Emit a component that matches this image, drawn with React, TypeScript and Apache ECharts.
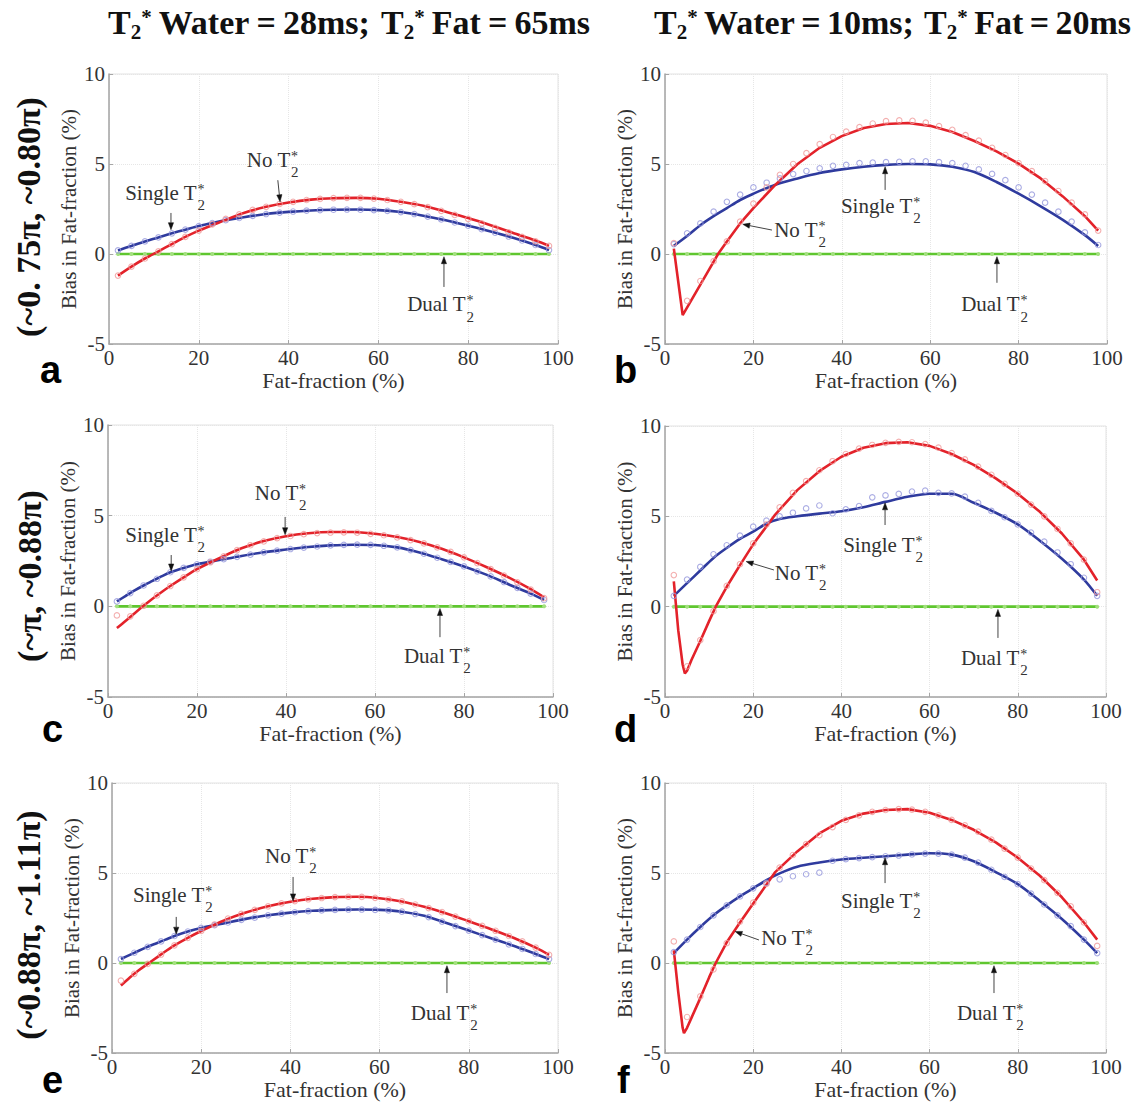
import React, { useEffect, useRef } from "react";
import * as echarts from "echarts";

// ---------------- DATA ----------------
const X_TICKS = [0, 20, 40, 60, 80, 100];
const Y_TICKS = [-5, 0, 5, 10];
const MARK_X = [2, 5, 8, 11, 14, 17, 20, 23, 26, 29, 32, 35, 38, 41, 44, 47, 50, 53, 56, 59, 62, 65, 68, 71, 74, 77, 80, 83, 86, 89, 92, 95, 98];
const DUAL_BIAS = [0, 0, 0, 0, 0, 0, 0, 0, 0, 0, 0, 0, 0, 0, 0, 0, 0, 0, 0, 0, 0, 0, 0, 0, 0, 0, 0, 0, 0, 0, 0, 0, 0];

// panel a
const A_RED_MARKS = [-1.2, -0.7, -0.25, 0.15, 0.55, 0.95, 1.3, 1.65, 1.95, 2.2, 2.45, 2.62, 2.78, 2.9, 3.0, 3.06, 3.1, 3.12, 3.12, 3.08, 3.0, 2.9, 2.77, 2.6, 2.4, 2.17, 1.95, 1.7, 1.45, 1.2, 0.95, 0.7, 0.45];
const A_BLUE_MARKS = [0.2, 0.45, 0.7, 0.92, 1.15, 1.35, 1.55, 1.72, 1.88, 2.0, 2.12, 2.22, 2.3, 2.36, 2.41, 2.44, 2.46, 2.47, 2.46, 2.44, 2.4, 2.33, 2.22, 2.08, 1.92, 1.75, 1.57, 1.38, 1.18, 0.97, 0.75, 0.5, 0.22];
const A_RED_LINE = [[2, -1.2], [5, -0.7], [8, -0.25], [11, 0.15], [14, 0.55], [17, 0.95], [20, 1.3], [25, 1.8], [30, 2.28], [35, 2.62], [40, 2.86], [45, 3.02], [50, 3.1], [55, 3.12], [60, 3.07], [65, 2.9], [70, 2.68], [75, 2.35], [80, 2.0], [85, 1.6], [90, 1.17], [95, 0.75], [98, 0.45]];
const A_BLUE_LINE = [[2, 0.2], [5, 0.45], [8, 0.7], [11, 0.92], [14, 1.15], [17, 1.35], [20, 1.55], [25, 1.83], [30, 2.04], [35, 2.22], [40, 2.34], [45, 2.42], [50, 2.46], [55, 2.47], [60, 2.44], [65, 2.33], [70, 2.13], [75, 1.87], [80, 1.57], [85, 1.25], [90, 0.9], [95, 0.5], [98, 0.22]];

// panel b
const B_RED_MARKS = [0.6, -2.6, -1.5, -0.4, 0.7, 1.8, 2.8, 3.7, 4.4, 5.0, 5.6, 6.1, 6.5, 6.8, 7.05, 7.25, 7.38, 7.42, 7.4, 7.3, 7.1, 6.9, 6.6, 6.3, 5.9, 5.5, 5.05, 4.6, 4.05, 3.5, 2.85, 2.2, 1.3];
const B_BLUE_MARKS = [0.55, 1.15, 1.7, 2.35, 2.9, 3.3, 3.7, 3.96, 4.2, 4.44, 4.61, 4.76, 4.9, 4.95, 5.05, 5.08, 5.1, 5.12, 5.15, 5.15, 5.1, 5.05, 4.9, 4.7, 4.45, 4.1, 3.7, 3.3, 2.85, 2.35, 1.8, 1.2, 0.5];
const B_RED_LINE = [[2, 0.3], [4, -3.4], [6, -2.55], [8, -1.7], [10, -0.85], [12, 0], [14, 0.7], [17, 1.7], [20, 2.55], [25, 3.85], [30, 5.0], [35, 5.9], [40, 6.55], [45, 7.0], [50, 7.22], [55, 7.28], [60, 7.12], [65, 6.78], [70, 6.28], [75, 5.7], [80, 5.02], [85, 4.2], [90, 3.2], [95, 2.1], [98, 1.3]];
const B_BLUE_LINE = [[2, 0.45], [5, 1.0], [8, 1.6], [11, 2.1], [14, 2.55], [17, 3.0], [20, 3.35], [25, 3.85], [30, 4.2], [35, 4.5], [40, 4.7], [45, 4.85], [50, 4.95], [55, 5.0], [60, 4.98], [65, 4.85], [70, 4.55], [75, 4.0], [80, 3.35], [85, 2.65], [90, 1.9], [95, 1.05], [98, 0.45]];

// panel c
const C_RED_MARKS = [-0.5, -0.55, 0.03, 0.6, 1.12, 1.6, 2.05, 2.43, 2.76, 3.1, 3.37, 3.58, 3.76, 3.88, 3.98, 4.04, 4.07, 4.08, 4.06, 4.0, 3.92, 3.8, 3.65, 3.47, 3.25, 3.0, 2.7, 2.38, 2.05, 1.7, 1.32, 0.92, 0.45];
const C_BLUE_MARKS = [0.27, 0.73, 1.15, 1.52, 1.88, 2.12, 2.32, 2.46, 2.6, 2.73, 2.85, 2.98, 3.07, 3.16, 3.24, 3.3, 3.36, 3.39, 3.4, 3.39, 3.34, 3.25, 3.1, 2.9, 2.68, 2.45, 2.2, 1.93, 1.65, 1.34, 1.02, 0.7, 0.35];
const C_RED_LINE = [[2, -1.2], [4, -0.8], [6, -0.38], [8, 0.03], [10, 0.42], [12, 0.78], [14, 1.12], [17, 1.6], [20, 2.05], [25, 2.65], [30, 3.2], [35, 3.6], [40, 3.87], [45, 4.03], [50, 4.1], [55, 4.1], [60, 4.0], [65, 3.82], [70, 3.55], [75, 3.17], [80, 2.7], [85, 2.17], [90, 1.6], [95, 0.95], [98, 0.5]];
const C_BLUE_LINE = [[2, 0.27], [4, 0.58], [6, 0.88], [8, 1.15], [10, 1.4], [12, 1.65], [14, 1.88], [17, 2.12], [20, 2.32], [25, 2.55], [30, 2.78], [35, 2.98], [40, 3.13], [45, 3.27], [50, 3.36], [55, 3.4], [60, 3.38], [65, 3.25], [70, 2.97], [75, 2.6], [80, 2.2], [85, 1.75], [90, 1.22], [95, 0.7], [98, 0.35]];

// panel d
const D_RED_MARKS = [1.75, -3.3, -1.85, -0.25, 1.15, 2.35, 3.5, 4.55, 5.5, 6.3, 6.95, 7.55, 8.05, 8.45, 8.75, 8.95, 9.07, 9.12, 9.1, 9.0, 8.8, 8.5, 8.15, 7.75, 7.3, 6.8, 6.25, 5.65, 5.0, 4.3, 3.5, 2.6, 0.8];
const D_BLUE_MARKS = [0.6, 1.5, 2.2, 2.9, 3.4, 3.93, 4.43, 4.76, 5.0, 5.2, 5.44, 5.6, 5.17, 5.39, 5.57, 6.05, 6.16, 6.24, 6.37, 6.42, 6.3, 6.27, 6.09, 5.75, 5.3, 4.95, 4.55, 4.1, 3.6, 3.0, 2.35, 1.6, 0.6];
const D_RED_LINE = [[2, 1.4], [3, -1.3], [4, -3.2], [4.5, -3.7], [5, -3.55], [6, -2.95], [8, -1.9], [10, -0.8], [11.5, 0], [14, 1.1], [17, 2.3], [20, 3.45], [25, 5.1], [30, 6.45], [35, 7.5], [40, 8.3], [45, 8.8], [50, 9.05], [55, 9.1], [60, 8.9], [65, 8.45], [70, 7.85], [75, 7.1], [80, 6.25], [85, 5.25], [90, 4.05], [95, 2.6], [98, 1.45]];
const D_BLUE_LINE = [[2, 0.6], [5, 1.3], [8, 2.0], [11, 2.7], [14, 3.25], [17, 3.75], [20, 4.15], [23, 4.6], [26, 4.85], [30, 5.0], [35, 5.15], [40, 5.28], [45, 5.5], [50, 5.8], [55, 6.08], [60, 6.25], [65, 6.25], [70, 5.75], [75, 5.2], [80, 4.55], [85, 3.65], [90, 2.65], [95, 1.5], [98, 0.6]];

// panel e
const E_RED_MARKS = [-0.98, -0.6, -0.05, 0.47, 0.98, 1.4, 1.78, 2.14, 2.47, 2.73, 2.95, 3.15, 3.31, 3.44, 3.54, 3.61, 3.66, 3.68, 3.67, 3.62, 3.53, 3.42, 3.25, 3.05, 2.83, 2.58, 2.32, 2.06, 1.79, 1.5, 1.2, 0.85, 0.45];
const E_BLUE_MARKS = [0.22, 0.57, 0.9, 1.2, 1.5, 1.75, 1.95, 2.1, 2.25, 2.4, 2.52, 2.65, 2.74, 2.82, 2.88, 2.92, 2.95, 2.97, 2.97, 2.95, 2.92, 2.85, 2.72, 2.55, 2.3, 2.05, 1.8, 1.55, 1.3, 1.03, 0.78, 0.5, 0.22];
const E_RED_LINE = [[2, -1.25], [4, -0.8], [6, -0.4], [8, -0.05], [10, 0.3], [12, 0.65], [14, 0.98], [17, 1.4], [20, 1.78], [25, 2.35], [30, 2.8], [35, 3.15], [40, 3.4], [45, 3.57], [50, 3.66], [55, 3.68], [60, 3.6], [65, 3.42], [70, 3.12], [75, 2.75], [80, 2.32], [85, 1.88], [90, 1.4], [95, 0.85], [98, 0.45]];
const E_BLUE_LINE = [[2, 0.22], [4, 0.45], [6, 0.68], [8, 0.9], [10, 1.1], [12, 1.3], [14, 1.5], [17, 1.75], [20, 1.95], [25, 2.2], [30, 2.45], [35, 2.65], [40, 2.8], [45, 2.9], [50, 2.95], [55, 2.97], [60, 2.95], [65, 2.85], [70, 2.62], [75, 2.22], [80, 1.8], [85, 1.38], [90, 0.96], [95, 0.5], [98, 0.22]];

// panel f
const F_RED_MARKS = [1.2, -3.0, -1.85, -0.35, 1.1, 2.3, 3.35, 4.4, 5.3, 6.0, 6.6, 7.1, 7.55, 7.95, 8.2, 8.4, 8.5, 8.55, 8.52, 8.4, 8.2, 7.95, 7.65, 7.3, 6.85, 6.35, 5.85, 5.25, 4.6, 3.9, 3.15, 2.25, 0.95];
const F_BLUE_MARKS = [0.6, 1.3, 2.0, 2.65, 3.2, 3.7, 4.15, 4.45, 4.65, 4.82, 4.93, 5.02, 5.68, 5.77, 5.83, 5.88, 5.93, 5.97, 6.03, 6.08, 6.08, 6.02, 5.85, 5.58, 5.18, 4.78, 4.38, 3.85, 3.25, 2.65, 2.05, 1.3, 0.55];
const F_RED_LINE = [[2, 0.7], [3, -1.6], [4, -3.6], [4.3, -3.9], [5, -3.6], [6, -3.05], [8, -1.95], [10, -0.8], [11.5, 0], [14, 1.15], [17, 2.25], [20, 3.3], [25, 5.05], [30, 6.2], [35, 7.2], [40, 7.9], [45, 8.3], [50, 8.5], [55, 8.55], [60, 8.35], [65, 7.95], [70, 7.4], [75, 6.7], [80, 5.85], [85, 4.85], [90, 3.65], [95, 2.25], [98, 1.3]];
const F_BLUE_LINE = [[2, 0.55], [5, 1.3], [8, 2.0], [11, 2.65], [14, 3.2], [17, 3.7], [20, 4.15], [23, 4.6], [26, 4.98], [30, 5.35], [35, 5.58], [40, 5.75], [45, 5.85], [50, 5.93], [55, 6.02], [60, 6.1], [65, 6.02], [70, 5.65], [75, 5.05], [80, 4.38], [85, 3.45], [90, 2.45], [95, 1.3], [98, 0.55]];

const PANELS = [
  { redMarks: A_RED_MARKS, blueMarks: A_BLUE_MARKS, redLine: A_RED_LINE, blueLine: A_BLUE_LINE, sharp: false },
  { redMarks: B_RED_MARKS, blueMarks: B_BLUE_MARKS, redLine: B_RED_LINE, blueLine: B_BLUE_LINE, sharp: true },
  { redMarks: C_RED_MARKS, blueMarks: C_BLUE_MARKS, redLine: C_RED_LINE, blueLine: C_BLUE_LINE, sharp: false },
  { redMarks: D_RED_MARKS, blueMarks: D_BLUE_MARKS, redLine: D_RED_LINE, blueLine: D_BLUE_LINE, sharp: true },
  { redMarks: E_RED_MARKS, blueMarks: E_BLUE_MARKS, redLine: E_RED_LINE, blueLine: E_BLUE_LINE, sharp: false },
  { redMarks: F_RED_MARKS, blueMarks: F_BLUE_MARKS, redLine: F_RED_LINE, blueLine: F_BLUE_LINE, sharp: true },
];

const PANEL_LETTERS = ["a", "b", "c", "d", "e", "f"];
const ROW_LABELS = ["(~0. 75\u03c0, ~0.80\u03c0)", "(~\u03c0, ~0.88\u03c0)", "(~0.88\u03c0, ~1.11\u03c0)"];
const COL_TITLES = [["28ms;", "65ms"], ["10ms;", "20ms"]];
const X_NAME = "Fat-fraction (%)";
const Y_NAME = "Bias in Fat-fraction (%)";
const CURVE_LABELS = { no: "No T", single: "Single T", dual: "Dual T" };

// ---------------- LAYOUT ----------------
const W = 1138;
const H = 1105;
const GRIDS = [
  { left: 109, top: 74, width: 449, height: 270 },
  { left: 665, top: 74, width: 442, height: 270 },
  { left: 108, top: 425, width: 445, height: 272 },
  { left: 665, top: 426, width: 441, height: 271 },
  { left: 112, top: 783, width: 446, height: 270 },
  { left: 665, top: 783, width: 441, height: 270 },
];
const TITLE_LAYOUT = [
  { left: 108, right: 590, baseline: 34 },
  { left: 654, right: 1131, baseline: 34 },
];
const ROW_LABEL_POS = [[28, 217], [29, 576], [28, 925]];
const LETTER_POS = [[40, 383], [614, 383], [42, 742], [614, 742], [42, 1093], [617, 1093]];

// annotation anchors in data coordinates (x %, bias %)
const NOTES = [
  [
    { kind: "no", at: [30.7, 4.83], arrow: [[37.6, 4.1], [38.1, 2.9]] },
    { kind: "single", at: [3.6, 3.0], arrow: [[13.8, 2.28], [13.8, 1.35]] },
    { kind: "dual", at: [66.4, -3.2], arrow: [[74.6, -1.83], [74.6, -0.15]] },
  ],
  [
    { kind: "single", at: [39.8, 2.28], arrow: [[49.8, 3.56], [49.8, 4.85]] },
    { kind: "no", at: [24.7, 0.94], arrow: [[24.2, 1.33], [17.6, 1.65]] },
    { kind: "dual", at: [67.0, -3.2], arrow: [[75.1, -1.6], [75.1, -0.15]] },
  ],
  [
    { kind: "no", at: [33.0, 5.87], arrow: [[39.8, 4.93], [39.8, 3.95]] },
    { kind: "single", at: [3.9, 3.55], arrow: [[14.2, 2.83], [14.2, 1.95]] },
    { kind: "dual", at: [66.5, -3.12], arrow: [[74.6, -1.7], [74.6, -0.12]] },
  ],
  [
    { kind: "single", at: [40.4, 3.02], arrow: [[49.9, 4.52], [49.9, 5.75]] },
    { kind: "no", at: [24.9, 1.47], arrow: [[24.7, 2.03], [18.4, 2.5]] },
    { kind: "dual", at: [67.1, -3.23], arrow: [[75.5, -1.73], [75.5, -0.15]] },
  ],
  [
    { kind: "no", at: [34.3, 5.56], arrow: [[40.6, 4.78], [40.6, 3.45]] },
    { kind: "single", at: [4.7, 3.39], arrow: [[14.4, 2.56], [14.4, 1.6]] },
    { kind: "dual", at: [67, -3.17], arrow: [[75.1, -1.67], [75.1, -0.15]] },
  ],
  [
    { kind: "single", at: [39.9, 3.06], arrow: [[49.9, 4.44], [49.9, 5.85]] },
    { kind: "no", at: [21.8, 1.0], arrow: [[21.3, 1.28], [15.9, 1.75]] },
    { kind: "dual", at: [66.2, -3.17], arrow: [[74.6, -1.67], [74.6, -0.15]] },
  ],
];

const SERIF = "'Liberation Serif', 'Times New Roman', serif";
const SANS = "'Liberation Sans', Arial, sans-serif";
const RED = "#e3222a";
const BLUE = "#2f3b9e";
const GREEN = "#5fc62f";
const RED_MARK = "#f09a9a";
const BLUE_MARK = "#9597dc";
const GREEN_MARK = "#a3e07f";
const TEXT = "#333333";
const AXIS = "#a6a6a6";

// ---------------- helpers ----------------
let measureCtx: CanvasRenderingContext2D | null = null;
function measure(text: string, size: number, bold: boolean, family: string) {
  if (!measureCtx) measureCtx = document.createElement("canvas").getContext("2d");
  if (!measureCtx) return text.length * size * 0.5;
  measureCtx.font = `${bold ? "bold " : ""}${size}px ${family}`;
  return measureCtx.measureText(text).width;
}

function textAt(x: number, baseline: number, text: string, size: number, bold: boolean, family: string, fill: string, align = "left") {
  return {
    type: "text",
    x,
    y: baseline - 0.34 * size,
    z: 100,
    silent: true,
    style: {
      text,
      fontSize: size,
      fontWeight: bold ? "bold" : "normal",
      fontFamily: family,
      fill,
      align,
      verticalAlign: "middle",
      textAlign: align,
      textVerticalAlign: "middle",
    },
  };
}

function titleEls(vals: string[], lay: { left: number; right: number; baseline: number }) {
  const MAIN = 34;
  const SMALL = 21;
  const runs: any[] = [
    { t: "T" }, { t: "2", k: "sub" }, { t: "*", k: "sup" }, { gap: 1 },
    { t: "Water" }, { gap: 1 }, { t: "=" }, { gap: 1 }, { t: vals[0] }, { gap: 1.6 },
    { t: "T" }, { t: "2", k: "sub" }, { t: "*", k: "sup" }, { gap: 1 },
    { t: "Fat" }, { gap: 1 }, { t: "=" }, { gap: 1 }, { t: vals[1] },
  ];
  let textW = 0;
  let gapSum = 0;
  runs.forEach((r) => {
    if (r.gap) gapSum += r.gap;
    else {
      r.size = r.k ? SMALL : MAIN;
      r.w = measure(r.t, r.size, true, SERIF);
      textW += r.w;
    }
  });
  const unit = Math.max(4, (lay.right - lay.left - textW) / gapSum);
  let x = lay.left;
  const els: any[] = [];
  runs.forEach((r) => {
    if (r.gap) {
      x += r.gap * unit;
      return;
    }
    let b = lay.baseline;
    if (r.k === "sub") b = lay.baseline + 5;
    if (r.k === "sup") b = lay.baseline - 10;
    els.push(textAt(x, b, r.t, r.size, true, SERIF, "#111"));
    x += r.w;
  });
  return els;
}

function arrowEls(p1: number[], p2: number[]) {
  const dx = p2[0] - p1[0];
  const dy = p2[1] - p1[1];
  const L = Math.hypot(dx, dy) || 1;
  const ux = dx / L;
  const uy = dy / L;
  const hl = 7;
  const hw = 2.6;
  const bx = p2[0] - ux * hl;
  const by = p2[1] - uy * hl;
  return [
    { type: "line", z: 100, silent: true, shape: { x1: p1[0], y1: p1[1], x2: bx, y2: by }, style: { stroke: "#444", lineWidth: 1 } },
    {
      type: "polygon",
      z: 100,
      silent: true,
      shape: { points: [[p2[0], p2[1]], [bx - uy * hw, by + ux * hw], [bx + uy * hw, by - ux * hw]] },
      style: { fill: "#111", stroke: "#111", lineWidth: 0.5 },
    },
  ];
}

function curveLabelEls(x: number, b: number, kind: string) {
  const SIZE = 21;
  const main = (CURVE_LABELS as any)[kind] as string;
  const w = measure(main, SIZE, false, SERIF);
  return [
    textAt(x, b, main, SIZE, false, SERIF, TEXT),
    textAt(x + w + 0.5, b - 6, "*", 14, false, SERIF, TEXT),
    textAt(x + w + 0.5, b + 10, "2", 15, false, SERIF, TEXT),
  ];
}

function zip(xs: number[], ys: number[]) {
  return xs.map((x, i) => [x, ys[i]]);
}

function buildOption() {
  const grid = GRIDS.map((g) => ({ ...g, show: true, borderColor: "#e2e2e2", borderWidth: 1, backgroundColor: "transparent" }));
  const xAxis = GRIDS.map((_, i) => ({
    type: "value",
    gridIndex: i,
    min: X_TICKS[0],
    max: X_TICKS[X_TICKS.length - 1],
    interval: X_TICKS[1] - X_TICKS[0],
    name: X_NAME,
    nameLocation: "middle",
    nameGap: 25,
    nameTextStyle: { fontFamily: SERIF, fontSize: 22, color: TEXT },
    axisLine: { show: true, onZero: false, lineStyle: { color: AXIS, width: 1.5 } },
    axisTick: { show: true, inside: true, length: 4, lineStyle: { color: AXIS } },
    axisLabel: { fontFamily: SERIF, fontSize: 21, color: TEXT, margin: 3 },
    splitLine: { show: true, lineStyle: { color: "#e6e6e6", type: "dotted", width: 1 } },
  }));
  const yAxis = GRIDS.map((_, i) => ({
    type: "value",
    gridIndex: i,
    min: Y_TICKS[0],
    max: Y_TICKS[Y_TICKS.length - 1],
    interval: Y_TICKS[1] - Y_TICKS[0],
    name: Y_NAME,
    nameLocation: "middle",
    nameGap: 30,
    nameTextStyle: { fontFamily: SERIF, fontSize: 21, color: TEXT },
    axisLine: { show: true, onZero: false, lineStyle: { color: AXIS, width: 1.5 } },
    axisTick: { show: true, inside: true, length: 4, lineStyle: { color: AXIS } },
    axisLabel: { fontFamily: SERIF, fontSize: 21, color: TEXT, margin: 4 },
    splitLine: { show: true, lineStyle: { color: "#e6e6e6", type: "dotted", width: 1 } },
  }));
  const series: any[] = [];
  PANELS.forEach((p, i) => {
    series.push({
      type: "line",
      xAxisIndex: i,
      yAxisIndex: i,
      data: zip(MARK_X, DUAL_BIAS),
      symbol: "circle",
      symbolSize: 4,
      showSymbol: true,
      lineStyle: { color: GREEN, width: 2.6 },
      itemStyle: { color: GREEN_MARK },
      z: 2,
      silent: true,
    });
    series.push({
      type: "line",
      xAxisIndex: i,
      yAxisIndex: i,
      data: p.blueLine,
      showSymbol: false,
      smooth: 0.3,
      lineStyle: { color: BLUE, width: 2.6 },
      z: 3,
      silent: true,
    });
    series.push({
      type: "line",
      xAxisIndex: i,
      yAxisIndex: i,
      data: p.redLine,
      showSymbol: false,
      smooth: p.sharp ? false : 0.3,
      lineStyle: { color: RED, width: 2.6 },
      z: 4,
      silent: true,
    });
    series.push({
      type: "scatter",
      xAxisIndex: i,
      yAxisIndex: i,
      data: zip(MARK_X, p.blueMarks),
      symbol: "circle",
      symbolSize: 5.5,
      itemStyle: { color: "rgba(255,255,255,0)", borderColor: BLUE_MARK, borderWidth: 1.1 },
      z: 5,
      silent: true,
    });
    series.push({
      type: "scatter",
      xAxisIndex: i,
      yAxisIndex: i,
      data: zip(MARK_X, p.redMarks),
      symbol: "circle",
      symbolSize: 5.5,
      itemStyle: { color: "rgba(255,255,255,0)", borderColor: RED_MARK, borderWidth: 1.1 },
      z: 6,
      silent: true,
    });
  });
  return {
    animation: false,
    backgroundColor: "#ffffff",
    grid,
    xAxis,
    yAxis,
    series,
  };
}

function buildGraphics(chart: any) {
  const els: any[] = [];
  TITLE_LAYOUT.forEach((lay, i) => els.push(...titleEls(COL_TITLES[i], lay)));
  ROW_LABELS.forEach((t, i) => {
    els.push({
      type: "text",
      x: ROW_LABEL_POS[i][0],
      y: ROW_LABEL_POS[i][1],
      rotation: Math.PI / 2,
      z: 100,
      silent: true,
      style: {
        text: t,
        fontSize: 34,
        fontWeight: "bold",
        fontFamily: SERIF,
        fill: "#111",
        align: "center",
        verticalAlign: "middle",
        textAlign: "center",
        textVerticalAlign: "middle",
      },
    });
  });
  PANEL_LETTERS.forEach((l, i) => {
    els.push(textAt(LETTER_POS[i][0], LETTER_POS[i][1], l, 38, true, SANS, "#000"));
  });
  NOTES.forEach((notes, gi) => {
    notes.forEach((n) => {
      const p = chart.convertToPixel({ gridIndex: gi }, n.at);
      els.push(...curveLabelEls(p[0], p[1], n.kind));
      const a1 = chart.convertToPixel({ gridIndex: gi }, n.arrow[0]);
      const a2 = chart.convertToPixel({ gridIndex: gi }, n.arrow[1]);
      els.push(...arrowEls(a1, a2));
    });
  });
  return els;
}

export default function App() {
  const ref = useRef<HTMLDivElement>(null);
  useEffect(() => {
    if (!ref.current) return;
    const chart = echarts.init(ref.current, null, { renderer: "svg" });
    chart.setOption(buildOption() as any);
    chart.setOption({ graphic: { elements: buildGraphics(chart) } } as any);
    return () => chart.dispose();
  }, []);
  return <div ref={ref} style={{ position: "absolute", left: 0, top: 0, width: W, height: H }} />;
}
